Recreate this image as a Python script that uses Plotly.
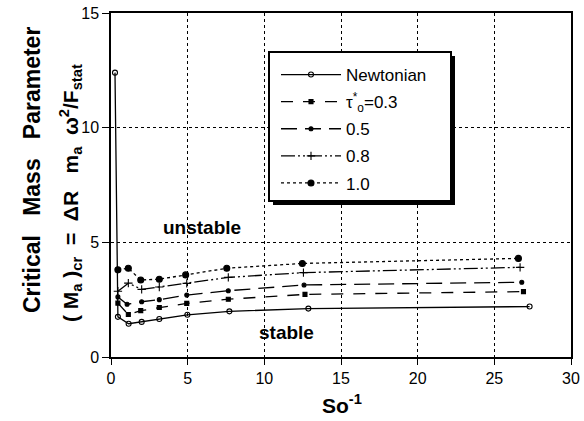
import plotly.graph_objects as go

# ---- data ----
newt_x = [0.26, 0.45, 1.15, 2.0, 3.15, 4.98, 7.72, 12.87, 27.3]
newt_y = [12.4, 1.75, 1.45, 1.53, 1.66, 1.84, 1.99, 2.11, 2.2]

t03_x = [0.45, 1.13, 1.94, 3.15, 4.94, 7.65, 12.65, 26.9]
t03_y = [2.35, 1.85, 2.02, 2.16, 2.34, 2.52, 2.73, 2.85]

t05_x = [0.45, 1.05, 2.0, 3.15, 4.94, 7.65, 12.59, 26.79]
t05_y = [2.62, 2.3, 2.41, 2.5, 2.7, 2.89, 3.14, 3.26]

t08_x = [0.45, 1.13, 2.0, 3.15, 4.94, 7.65, 12.55, 26.68]
t08_y = [2.87, 3.22, 2.95, 3.05, 3.21, 3.47, 3.68, 3.91]

t10_x = [0.45, 1.13, 1.94, 3.15, 4.87, 7.55, 12.48, 26.57]
t10_y = [3.8, 3.87, 3.36, 3.39, 3.58, 3.87, 4.08, 4.3]

x_ticks = [0, 5, 10, 15, 20, 25, 30]
y_ticks = [0, 5, 10, 15]

series = [
    ("Newtonian", newt_x, newt_y, "solid", "circle-open", 5),
    ("τ<sup>*</sup><sub>o</sub>=0.3", t03_x, t03_y, "12px,10px", "square", 4),
    ("0.5", t05_x, t05_y, "16px,8px", "circle", 4),
    ("0.8", t08_x, t08_y, "14px,3px,2px,3px,2px,3px", "cross-thin-open", 6),
    ("1.0", t10_x, t10_y, "dot", "circle", 6),
]

fig = go.Figure()
for i, (name, xs, ys, dash, sym, size) in enumerate(series):
    fig.add_trace(go.Scatter(
        x=xs, y=ys, name=name, mode="lines+markers", legendgroup=f"g{i}",
        line=dict(color="black", width=1.3, dash=dash),
        marker=dict(symbol=sym, size=size, color="black",
                    line=dict(color="black", width=1.1)),
    ))

L, R, T, B = 111, 13, 13, 64
pw, ph = 584 - L - R, 421 - T - B

def px_x(p):
    return (p - L) / pw

def px_y(p):
    return (421 - B - p) / ph

# legend box with drop shadow
fig.add_shape(type="rect", xref="paper", yref="paper",
              x0=px_x(273), x1=px_x(455), y0=px_y(205), y1=px_y(56),
              fillcolor="black", line=dict(width=0), layer="above")
fig.add_shape(type="rect", xref="paper", yref="paper",
              x0=px_x(269), x1=px_x(451), y0=px_y(201), y1=px_y(52),
              fillcolor="white", line=dict(color="black", width=2), layer="above")

axis_font = dict(family="Liberation Sans", size=16, color="black")
fig.update_xaxes(range=[0, 30], tickvals=x_ticks, showline=True, linecolor="black",
                 linewidth=1.5, mirror=True, ticks="outside", ticklen=6,
                 tickcolor="black", showgrid=True, gridcolor="black", gridwidth=1,
                 griddash="dot", zeroline=False, tickfont=axis_font,
                 automargin=False)
fig.update_yaxes(range=[0, 15], tickvals=y_ticks, showline=True, linecolor="black",
                 linewidth=1.5, mirror=True, ticks="outside", ticklen=7,
                 tickcolor="black", showgrid=True, gridcolor="black", gridwidth=1,
                 griddash="dot", zeroline=False, tickfont=axis_font,
                 automargin=False)

fig.add_annotation(xref="paper", yref="paper", x=px_x(32), y=px_y(170),
                   xanchor="center", yanchor="middle",
                   text="<b>Critical   Mass   Parameter</b>", textangle=-90,
                   showarrow=False,
                   font=dict(family="Liberation Sans", size=23, color="black"))
fig.add_annotation(xref="paper", yref="paper", x=px_x(70), y=px_y(193),
                   xanchor="center", yanchor="middle",
                   text="<b>( M<sub>a</sub> )<sub>cr</sub>  =  ΔR   m<sub>a</sub>  ω<sup>2</sup>/F<sub>stat</sub></b>",
                   textangle=-90, showarrow=False,
                   font=dict(family="Liberation Sans", size=21, color="black"))
fig.add_annotation(xref="paper", yref="paper", x=px_x(342), y=px_y(404),
                   xanchor="center", yanchor="middle",
                   text="<b>So<sup>-1</sup></b>", showarrow=False,
                   font=dict(family="Liberation Sans", size=21, color="black"))
fig.add_annotation(x=5.94, y=5.63, text="<b>unstable</b>", showarrow=False,
                   font=dict(family="Liberation Sans", size=19, color="black"))
fig.add_annotation(x=11.42, y=1.09, text="<b>stable</b>", showarrow=False,
                   font=dict(family="Liberation Sans", size=19, color="black"))

fig.update_layout(
    width=584, height=421, margin=dict(l=L, r=R, t=T, b=B, pad=0, autoexpand=False),
    paper_bgcolor="white", plot_bgcolor="white",
    showlegend=True,
    legend=dict(x=px_x(276), y=px_y(57), xanchor="left", yanchor="top",
                bgcolor="rgba(0,0,0,0)", borderwidth=0, itemwidth=60,
                font=dict(family="Liberation Sans", size=17, color="black"),
                tracegroupgap=2),
)

fig.write_html("out.html", config={"displayModeBar": False},
               post_script="document.body.style.margin='0';document.body.style.overflow='hidden';")
